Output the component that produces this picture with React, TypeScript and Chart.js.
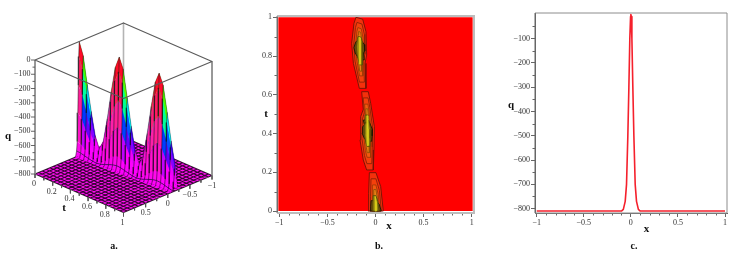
import React, { useEffect, useRef } from "react";
import { Chart, registerables } from "chart.js";
Chart.register(...registerables);

const SERIF = "'Liberation Serif', serif";

// ---- panel a: surface q(x,t) ----
const tGrid = [0, 0.042, 0.083, 0.125, 0.167, 0.208, 0.25, 0.292, 0.333, 0.375, 0.417, 0.458, 0.5, 0.542, 0.583, 0.625, 0.667, 0.708, 0.75, 0.792, 0.833, 0.875, 0.917, 0.958, 1];
const ridgeX = [0, -0.007, -0.014, -0.021, -0.028, -0.035, -0.042, -0.049, -0.056, -0.063, -0.07, -0.077, -0.084, -0.091, -0.098, -0.105, -0.112, -0.119, -0.126, -0.133, -0.14, -0.147, -0.154, -0.161, -0.168];
const ridgeQ = [0, -90, -280, -460, -620, -700, -640, -470, -270, -90, -5, -80, -270, -460, -620, -705, -640, -470, -270, -90, -15, -90, -270, -460, -620];
const crossOffset = [-0.1, -0.08, -0.06, -0.046, -0.032, -0.021, -0.011, 0, 0.011, 0.021, 0.032, 0.046, 0.06, 0.08, 0.1];
const crossShare = [0, 0.01, 0.05, 0.13, 0.38, 0.62, 0.87, 1, 0.87, 0.62, 0.38, 0.13, 0.05, 0.01, 0];
const qTicksA = [0, -100, -200, -300, -400, -500, -600, -700, -800];
const qMinorA = [-50, -150, -250, -350, -450, -550, -650, -750];
const tTicksA = [0, 0.2, 0.4, 0.6, 0.8, 1];
const tMinorA = [0.1, 0.3, 0.5, 0.7, 0.9];
const xTicksA = [0.5, 0, -0.5, -1];
const xMinorA = [0.75, 0.25, -0.25, -0.75];
const MESH = 24;

// ---- panel b: contour outlines [x, t] ----
const blobTop = [[-0.203, 1], [-0.133, 0.99], [-0.099, 0.926], [-0.092, 0.805], [-0.109, 0.762], [-0.099, 0.633], [-0.168, 0.633], [-0.23, 0.762], [-0.248, 0.866], [-0.224, 0.969]];
const blobMid = [[-0.144, 0.616], [-0.075, 0.616], [-0.05, 0.556], [-0.012, 0.435], [-0.016, 0.315], [-0.023, 0.212], [-0.092, 0.212], [-0.127, 0.263], [-0.161, 0.367], [-0.154, 0.487], [-0.127, 0.525]];
const blobLow = [[-0.064, 0.198], [0.005, 0.198], [0.054, 0.126], [0.081, 0], [-0.075, 0], [-0.071, 0.091]];
const blobCentres = [[-0.163, 0.835], [-0.083, 0.415], [0.003, 0]];
const ringScaleX = [1, 0.74, 0.5, 0.3, 0.72, 0.42, 0.09];
const ringScaleT = [1, 0.84, 0.68, 0.56, 0.27, 0.4, 0.38];
const ringFill = ["#f4300c", "#f4400c", "#f25a10", "#ec8014", "#6a4c0a", "#94840f", "#e8dc20"];
const ringEdge = ["#6e1406", "#8c2006", "#a03806", "#905006", "#1c1402", "#5a4e08", "#d4c818"];
const xTicksB = [-1, -0.5, 0, 0.5, 1];
const tTicksB = [0, 0.2, 0.4, 0.6, 0.8, 1];
const xMinorB = [-0.9, -0.8, -0.7, -0.6, -0.4, -0.3, -0.2, -0.1, 0.1, 0.2, 0.3, 0.4, 0.6, 0.7, 0.8, 0.9];
const tMinorB = [0.1, 0.3, 0.5, 0.7, 0.9];

// ---- panel c: cross-section ----
const xC = [-1, -0.5, -0.1, -0.08, -0.06, -0.046, -0.032, -0.021, -0.011, -0.003, 0, 0.003, 0.011, 0.021, 0.032, 0.046, 0.06, 0.08, 0.1, 0.5, 1];
const qC = [-810, -810, -810, -803, -770, -700, -500, -300, -100, -10, -1, -10, -100, -300, -500, -700, -770, -803, -810, -810, -810];
const xTicksC = [-1, -0.5, 0, 0.5, 1];
const qTicksC = [-100, -200, -300, -400, -500, -600, -700, -800];
const xMinorC = xMinorB;
const qMinorC = [-50, -150, -250, -350, -450, -550, -650, -750];

const fmt = (v: number) => (v < 0 ? "\u2212" + String(-v) : String(v));

type Note = { text: string; x: number; y: number; font: string; color: string; align?: CanvasTextAlign };
const TICK_FONT = `8px ${SERIF}`;
const TITLE_FONT = `bold 11px ${SERIF}`;
const CAP_FONT = `bold 10px ${SERIF}`;

const notesPlugin = (notes: Note[]) => ({
  id: "notes",
  afterDraw(chart: any) {
    const c = chart.ctx;
    c.save();
    c.textBaseline = "middle";
    for (const n of notes) {
      c.font = n.font;
      c.fillStyle = n.color;
      c.textAlign = n.align ?? "center";
      c.fillText(n.text, n.x, n.y);
    }
    c.restore();
  },
});

const minorPlugin = (xs: number[], ys: number[], color: string) => ({
  id: "minor",
  afterDraw(chart: any) {
    const c = chart.ctx;
    const a = chart.chartArea;
    c.save();
    c.strokeStyle = color;
    c.lineWidth = 1;
    c.beginPath();
    for (const v of xs) {
      const p = Math.round(chart.scales.x.getPixelForValue(v)) + 0.5;
      c.moveTo(p, a.bottom);
      c.lineTo(p, a.bottom + 2.5);
    }
    for (const v of ys) {
      const p = Math.round(chart.scales.y.getPixelForValue(v)) + 0.5;
      c.moveTo(a.left, p);
      c.lineTo(a.left - 2.5, p);
    }
    c.stroke();
    c.restore();
  },
});

const framePlugin = (left: string, other: string, w: number) => ({
  id: "frame",
  afterDraw(chart: any) {
    const c = chart.ctx;
    const a = chart.chartArea;
    c.save();
    c.lineWidth = w;
    c.strokeStyle = other;
    c.beginPath();
    c.moveTo(a.left, a.top);
    c.lineTo(a.right, a.top);
    c.lineTo(a.right, a.bottom);
    c.lineTo(a.left, a.bottom);
    c.stroke();
    c.strokeStyle = left;
    c.lineWidth = 1;
    c.beginPath();
    c.moveTo(a.left, a.top);
    c.lineTo(a.left, a.bottom);
    c.stroke();
    c.restore();
  },
});

// view of the 3-D box on the flat scales of panel a
const project = (x: number, t: number, q: number) => ({
  x: 35 + 88.5 * t + 88.5 * ((1 - x) / 2),
  y: 174 + 38.5 * t - 37 * ((1 - x) / 2) - 114 * ((q + 800) / 800),
});

const poly = (pts: { x: number; y: number }[], fill: string, edge = fill, w = 0) => ({
  data: [...pts, pts[0]],
  fill: "shape",
  backgroundColor: fill,
  borderColor: edge,
  borderWidth: w,
  pointRadius: 0,
  tension: 0,
});
const path = (pts: { x: number; y: number }[], color: string, w: number) => ({
  data: pts,
  fill: false,
  borderColor: color,
  borderWidth: w,
  pointRadius: 0,
  tension: 0,
  spanGaps: false,
});

const hueColor = (q: number, pink: boolean) => {
  const f = Math.min(1, Math.max(0, -q / 800));
  if (pink) {
    return `hsl(${(360 - 60 * f).toFixed(0)},100%,${(50 + 6 * Math.sin(f * 3.14)).toFixed(0)}%)`;
  }
  const hue = f <= 0.65 ? 369 * f : f <= 0.85 ? 240 + ((f - 0.65) / 0.2) * 60 : 300;
  return `hsl(${hue.toFixed(0)},100%,50%)`;
};

function surfaceDatasets() {
  const out: any[] = [];
  const height = (i: number, j: number) => -800 + (ridgeQ[i] + 800) * crossShare[j];
  const at = (i: number, j: number) => project(ridgeX[i] + crossOffset[j], tGrid[i], height(i, j));

  // back edge, floor, floor mesh
  out.push(path([project(-1, 0, 0), project(-1, 0, -800)], "#b4b4b4", 1.6));
  out.push(poly([project(1, 0, -800), project(1, 1, -800), project(-1, 1, -800), project(-1, 0, -800)], "#ff10f0"));
  const mesh: { x: number; y: number }[] = [];
  for (let k = 0; k <= MESH; k++) {
    const s = k / MESH;
    mesh.push(project(1, s, -800), project(-1, s, -800), { x: NaN, y: NaN });
    mesh.push(project(1 - 2 * s, 0, -800), project(1 - 2 * s, 1, -800), { x: NaN, y: NaN });
  }
  out.push(path(mesh, "rgba(20,0,20,0.85)", 1.05));

  // side edges of the box
  out.push(path([project(1, 0, 0), project(1, 0, -800)], "#8a8a8a", 1));
  out.push(path([project(-1, 1, 0), project(-1, 1, -800)], "#8a8a8a", 1));

  for (let i = 0; i < tGrid.length - 1; i++) {
    // strips that climb to a crest, and the one just past it, face the viewer
    const climbing = i === 0 || ridgeQ[i + 1] >= ridgeQ[i] || ridgeQ[i] > ridgeQ[i - 1];
    const strong = climbing && Math.max(ridgeQ[i], ridgeQ[i + 1]) > -500;
    for (let j = 0; j < crossOffset.length - 1; j++) {
      const q = (height(i, j) + height(i + 1, j) + height(i, j + 1) + height(i + 1, j + 1)) / 4;
      const near = crossOffset[j] >= 0;
      out.push(poly([at(i, j), at(i + 1, j), at(i + 1, j + 1), at(i, j + 1)], hueColor(q, near && strong)));
    }
  }
  // mesh lines on the viewer's side of the ridge
  const crest = crossOffset.indexOf(0);
  tGrid.forEach((_, i) => {
    const pts = crossOffset.map((_, j) => at(i, j)).slice(crest);
    out.push(path(pts, "rgba(16,10,16,0.85)", 0.6));
  });
  // foot curve of the ridge on the viewer's side
  out.push(path(tGrid.map((_, i) => at(i, crossOffset.length - 3)), "#20103c", 0.7));
  // crest line
  out.push(path(tGrid.map((_, i) => at(i, crest)), "rgba(16,10,16,0.7)", 0.5));

  // rim of the box, drawn over the surface
  out.push(path([project(1, 0, 0), project(-1, 0, 0), project(-1, 1, 0), project(1, 1, 0), project(1, 0, 0)], "#5a5a5a", 1.1));

  // tick marks
  const ticks: { x: number; y: number }[] = [];
  const gap = { x: NaN, y: NaN };
  for (const q of qTicksA) { const p = project(1, 0, q); ticks.push({ x: p.x - 4, y: p.y }, p, gap); }
  for (const q of qMinorA) { const p = project(1, 0, q); ticks.push({ x: p.x - 2.5, y: p.y }, p, gap); }
  for (const t of tTicksA) { const p = project(1, t, -800); ticks.push(p, { x: p.x, y: p.y + 4 }, gap); }
  for (const t of tMinorA) { const p = project(1, t, -800); ticks.push(p, { x: p.x, y: p.y + 2.5 }, gap); }
  for (const x of xTicksA) { const p = project(x, 1, -800); ticks.push(p, { x: p.x, y: p.y + 4 }, gap); }
  for (const x of xMinorA) { const p = project(x, 1, -800); ticks.push(p, { x: p.x, y: p.y + 2.5 }, gap); }
  out.push(path(ticks, "#555", 0.9));
  return out.reverse();
}

function blobDatasets() {
  const out: any[] = [];
  const rect = [{ x: -1.01, y: 0 }, { x: 1.01, y: 0 }, { x: 1.01, y: 1 }, { x: -1.01, y: 1 }];
  out.push(poly(rect, "#ff0000"));
  [blobTop, blobMid, blobLow].forEach((blob, b) => {
    const [cx, ct] = blobCentres[b];
    ringScaleX.forEach((sx, r) => {
      const pts = blob.map(([x, t]) => ({ x: cx + (x - cx) * sx, y: ct + (t - ct) * ringScaleT[r] }));
      out.push(poly(pts, ringFill[r], ringEdge[r], 0.9));
    });
  });
  return out.reverse();
}

const lockTicks = (values: number[]) => (scale: any) => {
  scale.ticks = values.map((value) => ({ value }));
};

function axis(pos: "x" | "y", min: number, max: number, ticks: number[], size: number, color: string, fontColor: string) {
  return {
    type: "linear",
    position: pos === "x" ? "bottom" : "left",
    min,
    max,
    afterBuildTicks: lockTicks(ticks),
    afterFit: (s: any) => {
      if (pos === "x") s.height = size;
      else s.width = size;
    },
    border: { color, width: 1 },
    grid: { drawOnChartArea: false, tickLength: 4, tickColor: color },
    ticks: {
      autoSkip: false,
      maxRotation: 0,
      padding: 1,
      color: fontColor,
      font: { family: SERIF, size: 8 },
      callback: (v: number) => fmt(Number(v)),
    },
  };
}

function usePanel(make: () => any) {
  const ref = useRef<HTMLCanvasElement>(null);
  useEffect(() => {
    const chart = new Chart(ref.current as HTMLCanvasElement, make());
    return () => chart.destroy();
  }, []);
  return ref;
}

const baseOptions = {
  animation: false,
  responsive: false,
  events: [],
  plugins: { legend: { display: false }, tooltip: { enabled: false }, title: { display: false } },
  elements: { line: { borderJoinStyle: "round" } },
};

function panelA() {
  const notes: Note[] = [];
  for (const q of qTicksA) {
    const p = project(1, 0, q);
    notes.push({ text: fmt(q), x: p.x - 4.5, y: p.y, font: TICK_FONT, color: "#333", align: "right" });
  }
  for (const t of tTicksA) {
    const p = project(1, t, -800);
    notes.push({ text: fmt(t), x: p.x - 1, y: p.y + 10, font: TICK_FONT, color: "#333" });
  }
  for (const x of xTicksA) {
    const p = project(x, 1, -800);
    notes.push({ text: fmt(x), x: p.x, y: p.y + 10, font: TICK_FONT, color: "#333" });
  }
  notes.push({ text: "q", x: 8, y: 136, font: TITLE_FONT, color: "#111" });
  notes.push({ text: "t", x: 64, y: 208, font: TITLE_FONT, color: "#111" });
  notes.push({ text: "a.", x: 114, y: 246, font: CAP_FONT, color: "#111" });
  return {
    type: "line",
    data: { datasets: surfaceDatasets() },
    options: {
      ...baseOptions,
      layout: { padding: 0 },
      scales: {
        x: { type: "linear", display: false, min: 0, max: 245 },
        y: { type: "linear", display: false, min: 0, max: 263, reverse: true },
      },
    },
    plugins: [notesPlugin(notes)],
  };
}

function panelB() {
  const notes: Note[] = [
    { text: "t", x: 16, y: 114, font: TITLE_FONT, color: "#111" },
    { text: "x", x: 139, y: 226.5, font: TITLE_FONT, color: "#111" },
    { text: "b.", x: 129, y: 246, font: CAP_FONT, color: "#111" },
  ];
  return {
    type: "line",
    data: { datasets: blobDatasets() },
    options: {
      ...baseOptions,
      layout: { padding: { top: 16, right: 16, left: 0, bottom: 0 } },
      scales: {
        x: axis("x", -1.024, 1.024, xTicksB, 50, "#666", "#333"),
        y: axis("y", -0.0103, 1.0067, tTicksB, 27, "#666", "#333"),
      },
    },
    plugins: [minorPlugin(xMinorB, tMinorB, "#666"), framePlugin("#777", "#bdbdbd", 2), notesPlugin(notes)],
  };
}

function panelC() {
  const notes: Note[] = [
    { text: "q", x: 21, y: 105, font: TITLE_FONT, color: "#111" },
    { text: "x", x: 156.5, y: 229, font: TITLE_FONT, color: "#111" },
    { text: "c.", x: 144, y: 246, font: CAP_FONT, color: "#111" },
  ];
  return {
    type: "line",
    data: {
      datasets: [
        {
          data: xC.map((x, i) => ({ x, y: qC[i] })),
          fill: false,
          borderColor: "#f5202c",
          borderWidth: 1.6,
          pointRadius: 0,
          tension: 0,
        },
      ],
    },
    options: {
      ...baseOptions,
      layout: { padding: { top: 13, right: 12, left: 0, bottom: 0 } },
      scales: {
        x: axis("x", -1.018, 1.021, xTicksC, 50, "#666", "#333"),
        y: axis("y", -818, 5, qTicksC, 45, "#666", "#333"),
      },
    },
    plugins: [minorPlugin(xMinorC, qMinorC, "#666"), framePlugin("#666", "#8c8c8c", 1), notesPlugin(notes)],
  };
}

const canvasStyle = (left: number): React.CSSProperties => ({
  position: "absolute",
  left,
  top: 0,
  filter: "blur(0.35px)",
});

export default function App() {
  const a = usePanel(panelA);
  const b = usePanel(panelB);
  const c = usePanel(panelC);
  return (
    <div style={{ position: "absolute", left: 0, top: 0, width: 739, height: 263, overflow: "hidden", background: "#fff" }}>
      <canvas ref={a} width={245} height={263} style={canvasStyle(0)} />
      <canvas ref={b} width={240} height={263} style={canvasStyle(250)} />
      <canvas ref={c} width={249} height={263} style={canvasStyle(490)} />
    </div>
  );
}
